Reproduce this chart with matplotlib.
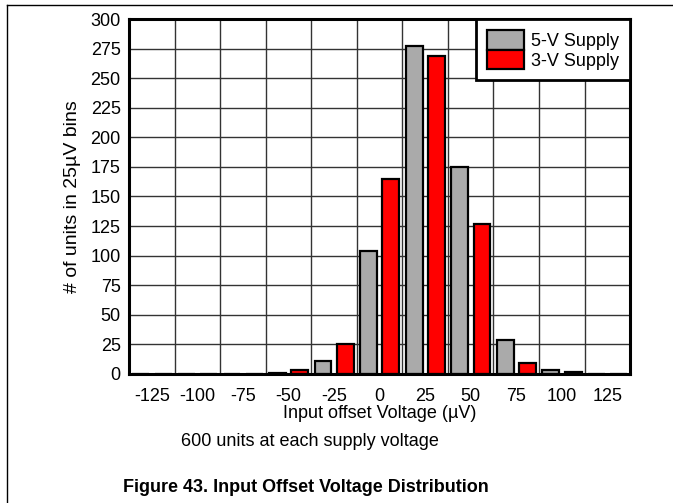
import numpy as np
import matplotlib.pyplot as plt
from matplotlib.lines import Line2D

plt.rcParams['font.family'] = ['Liberation Sans', 'DejaVu Sans']

# histogram bins (uV) and counts
bins = [-125, -100, -75, -50, -25, 0, 25, 50, 75, 100, 125]
supply_5v = [0, 0, 0, 1, 11, 104, 277, 175, 29, 3, 0]
supply_3v = [0, 0, 0, 3, 25, 165, 269, 127, 9, 2, 0]

fig = plt.figure(figsize=(6.73, 5.03), dpi=100)
ax = fig.add_axes([0.1917, 0.2565, 0.7445, 0.7057])

x = np.arange(len(bins))
w = 0.37
ax.bar(x - 0.24, supply_5v, w, color='#aaaaaa', edgecolor='black', linewidth=1.6, label='5-V Supply', zorder=3)
ax.bar(x + 0.25, supply_3v, w, color='#ff0000', edgecolor='black', linewidth=1.6, label='3-V Supply', zorder=3)

ax.set_xlim(-0.5, len(bins) - 0.5)
ax.set_ylim(0, 300)
ax.set_xticks(x)
ax.set_xticklabels([str(b) for b in bins])
ax.set_xticks(x[:-1] + 0.5, minor=True)
ax.set_yticks(np.arange(0, 301, 25))
ax.tick_params(which='both', length=0, labelsize=13)
ax.tick_params(axis='x', pad=10)
ax.tick_params(axis='y', pad=6)
ax.grid(True, which='minor', axis='x', color='#333333', linewidth=1.0, zorder=0)
ax.grid(True, which='major', axis='y', color='#333333', linewidth=1.0, zorder=0)
for s in ax.spines.values():
    s.set_linewidth(2.2)
    s.set_zorder(5)

ax.set_xlabel('Input offset Voltage (µV)', fontsize=13, labelpad=0)
ax.set_ylabel('# of units in 25µV bins', fontsize=14, labelpad=7)

leg = ax.legend(loc='upper right', borderaxespad=0, fancybox=False, framealpha=1,
                edgecolor='black', fontsize=13, handlelength=2.05, handleheight=1.3,
                labelspacing=0.0, handletextpad=0.4, borderpad=0.6)
leg.get_frame().set_linewidth(2.0)
leg.set_zorder(6)

fig.text(0.46, 1 - 441 / 503, '600 units at each supply voltage', ha='center', va='center', fontsize=13)
fig.text(0.455, 1 - 488 / 503, 'Figure 43. Input Offset Voltage Distribution', ha='center', va='center',
         fontsize=13, fontweight='bold')

# outer figure frame
fig.add_artist(Line2D([7 / 673, 1], [1 - 5 / 503, 1 - 5 / 503], color='black', linewidth=1.0))
fig.add_artist(Line2D([7 / 673, 7 / 673], [0, 1 - 5 / 503], color='black', linewidth=1.0))

fig.savefig('out.png', dpi=100)
